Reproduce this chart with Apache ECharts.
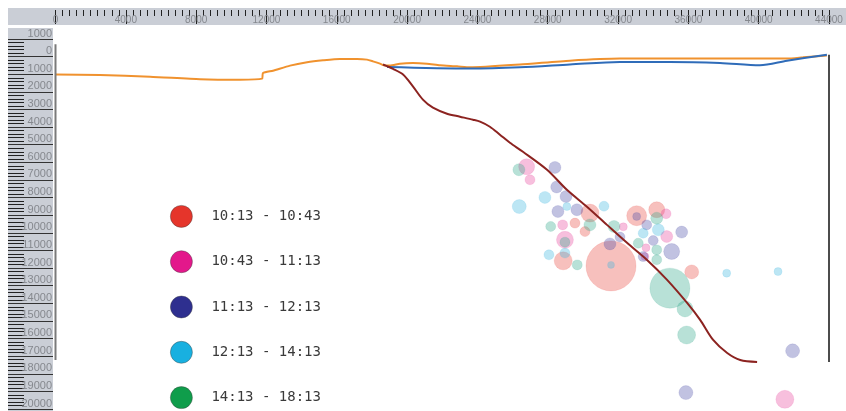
<!DOCTYPE html>
<html>
<head>
<meta charset="utf-8">
<script src="https://cdn.jsdelivr.net/npm/echarts@6/dist/echarts.min.js"></script>
<style>
  html, body { margin: 0; padding: 0; background: #ffffff; }
  #chart { width: 846px; height: 411px; }
</style>
</head>
<body>
<div id="chart"></div>
<script>
// Period names for the five bubble groups
const periods = ['10:13 - 10:43', '10:43 - 11:13', '11:13 - 12:13', '12:13 - 14:13', '14:13 - 18:13'];

// Bubbles: [distance, depth, size]
const bubbles1013 = [
  [30400, 8880, 9], [29550, 9450, 5], [30120, 9930, 5], [28880, 11590, 9],
  [31600, 11880, 25], [33060, 9030, 10], [34200, 8690, 8], [36190, 12220, 7]
];
const bubbles1043 = [
  [26800, 6250, 8], [26990, 6990, 5], [28850, 9550, 5], [28980, 10400, 8.5],
  [34730, 8920, 5], [32300, 9660, 4], [34770, 10210, 6], [33590, 10850, 4],
  [33530, 11350, 4], [41490, 19450, 9]
];
const bubbles1113 = [
  [28410, 6290, 6], [28510, 7400, 6], [29040, 7940, 6], [28580, 8790, 6],
  [29660, 8690, 6], [33060, 9070, 4], [33630, 9550, 5], [35620, 9960, 6],
  [32110, 10240, 5], [31540, 10630, 6], [34000, 10440, 5], [35050, 11060, 8],
  [33430, 11350, 5], [41930, 16700, 7], [35860, 19070, 7]
];
const bubbles1213 = [
  [27840, 7990, 6], [26380, 8510, 7], [29090, 8510, 4], [31200, 8490, 5],
  [28980, 11150, 5], [28070, 11250, 5], [31600, 11820, 3.5], [33430, 10020, 5],
  [34290, 9830, 6], [38180, 12290, 4], [41100, 12200, 4]
];
const bubbles1413 = [
  [26360, 6420, 6], [28170, 9640, 5], [28980, 10530, 5], [29680, 11820, 5],
  [30400, 9550, 6], [31770, 9640, 6], [34200, 9170, 6], [33150, 10590, 5],
  [34200, 10970, 5], [34200, 11530, 5], [34950, 13140, 20], [35810, 14320, 8],
  [35900, 15800, 9]
];

// Profile lines: [distance, depth]
const surfaceOrange = [
  [0, 1020], [2530, 1050], [5380, 1140], [8220, 1280], [10490, 1310], [11750, 1250],
  [11800, 940], [12370, 800], [13340, 510], [14310, 320], [15220, 210], [16180, 130],
  [17150, 130], [17720, 170], [18060, 270], [18460, 400], [18740, 510], [19030, 510],
  [19590, 400], [20330, 360], [21130, 400], [21870, 490], [22840, 550], [23580, 610],
  [26420, 450], [29260, 230], [32110, 110], [34950, 110], [38760, 110], [41610, 110],
  [42520, 40], [43880, -70]
];
const surfaceBlue = [
  [18860, 590], [23580, 680], [26420, 610], [29260, 450], [32110, 300], [34950, 300],
  [37800, 360], [40070, 490], [41610, 230], [43880, -110]
];
const slabCurve = [
  [18630, 450], [19200, 700], [19770, 1020], [20330, 1690], [20900, 2440], [21470, 2900],
  [22270, 3240], [23010, 3410], [23750, 3580], [24150, 3690], [24710, 3980], [25280, 4430],
  [25850, 4890], [26590, 5400], [27960, 6420], [29090, 7560], [30230, 8520], [31370, 9550],
  [32510, 10570], [33650, 11540], [34790, 12670], [35930, 13980], [36670, 14940],
  [37410, 16080], [38210, 16820], [38950, 17220], [39910, 17330]
];
const leftEdge = [[0, -700], [0, 17220]];
const rightEdge = [[44000, -110], [44000, 17330]];

// Axis ranges and ticks
const distMin = 0, distMax = 44000, distStep = 4000;
const depthMin = -1000, depthMax = 20000, depthStep = 1000;

const legendColors = ['#e5352b', '#e3188b', '#2e2f8f', '#18b0e0', '#0f9d4b'];
const bubbleColors = ['#e8473f', '#e8439a', '#4a4ca8', '#3cb6e0', '#2fa88a'];
const bubbleSets = [bubbles1013, bubbles1043, bubbles1113, bubbles1213, bubbles1413];

const chart = echarts.init(document.getElementById('chart'), null, { renderer: 'canvas' });

const bubbleSeries = bubbleSets.map((set, i) => ({
  name: periods[i],
  type: 'scatter',
  xAxisIndex: 0,
  yAxisIndex: 0,
  data: set,
  symbol: 'circle',
  symbolSize: v => v[2] * 2,
  itemStyle: { color: bubbleColors[i], opacity: 0.34, borderColor: bubbleColors[i], borderWidth: 0.4 },
  emphasis: { disabled: true },
  z: 2
}));

const lineBase = {
  type: 'line', xAxisIndex: 0, yAxisIndex: 0, showSymbol: false, symbol: 'none',
  smooth: 0.3, emphasis: { disabled: true }, z: 5
};

const hiddenAxis = { show: false };

chart.setOption({
  animation: false,
  backgroundColor: '#ffffff',
  graphic: [
    { type: 'rect', shape: { x: 8, y: 8, width: 838, height: 17 }, style: { fill: '#caced6' }, z: -10 },
    { type: 'rect', shape: { x: 8, y: 28, width: 45, height: 383 }, style: { fill: '#caced6' }, z: -10 }
  ],
  grid: [
    // plot area
    { left: 55.5, right: 17, top: 39, bottom: 2, containLabel: false, outerBoundsMode: 'none' },
    // depth ruler strip
    { left: 8, width: 45, top: 39, bottom: 2, containLabel: false, outerBoundsMode: 'none' },
    // distance ruler strip: its lower edge carries the scale
    { left: 55.5, right: 17, top: 0, height: 10, containLabel: false, outerBoundsMode: 'none' }
  ],
  legend: {
    data: periods.map((p, i) => ({ name: p, itemStyle: { color: legendColors[i], opacity: 1 } })),
    orient: 'vertical',
    left: 170, top: 205, padding: 0,
    itemWidth: 22, itemHeight: 22, itemGap: 22.5,
    icon: 'circle',
    itemStyle: { opacity: 1, borderColor: 'rgba(60,60,60,0.5)', borderWidth: 0.8 },
    textStyle: { fontFamily: 'DejaVu Sans Mono', fontSize: 14, color: '#3a3a3a', padding: [0, 0, 0, 14] },
    selectedMode: false
  },
  xAxis: [
    { type: 'value', gridIndex: 0, min: distMin, max: distMax, interval: distStep, ...hiddenAxis },
    { type: 'value', gridIndex: 1, min: 0, max: 1, ...hiddenAxis },
    {
      type: 'value', gridIndex: 2, position: 'bottom', min: distMin, max: distMax, interval: distStep,
      axisLine: { show: false },
      axisTick: { show: true, inside: false, length: 14, lineStyle: { color: '#222', width: 1 } },
      minorTick: { show: true, splitNumber: 10, length: 6, lineStyle: { color: '#222', width: 1 } },
      axisLabel: {
        show: true, inside: false, margin: 5,
        fontFamily: 'Liberation Sans', fontSize: 10, color: '#85888e',
        formatter: v => String(v)
      },
      splitLine: { show: false }
    }
  ],
  yAxis: [
    { type: 'value', gridIndex: 0, inverse: true, min: depthMin, max: depthMax, interval: depthStep, ...hiddenAxis },
    {
      type: 'value', gridIndex: 1, position: 'left', inverse: true,
      min: depthMin, max: depthMax, interval: depthStep,
      axisLine: { show: false },
      axisTick: { show: true, inside: true, length: 45, lineStyle: { color: '#333', width: 1 } },
      minorTick: { show: true, splitNumber: 5, length: 16, lineStyle: { color: '#222', width: 1 } },
      axisLabel: {
        show: true, inside: true, margin: 44, align: 'right', verticalAlign: 'bottom',
        fontFamily: 'Liberation Sans', fontSize: 11, color: '#85888e',
        formatter: v => String(Math.abs(v))
      },
      splitLine: { show: false }
    },
    { type: 'value', gridIndex: 2, min: 0, max: 1, ...hiddenAxis }
  ],
  series: [
    ...bubbleSeries,
    { ...lineBase, name: 'surface-orange', data: surfaceOrange, smooth: 0.2,
      lineStyle: { color: '#f0922e', width: 2 } },
    { ...lineBase, name: 'surface-blue', data: surfaceBlue,
      lineStyle: { color: '#2f6cb9', width: 2 } },
    { ...lineBase, name: 'slab', data: slabCurve,
      lineStyle: { color: '#8c2320', width: 2 } },
    { ...lineBase, name: 'edge-left', data: leftEdge, smooth: false,
      lineStyle: { color: '#7a7a7a', width: 2 } },
    { ...lineBase, name: 'edge-right', data: rightEdge, smooth: false,
      lineStyle: { color: '#111', width: 1.5 } }
  ]
});
</script>
</body>
</html>
